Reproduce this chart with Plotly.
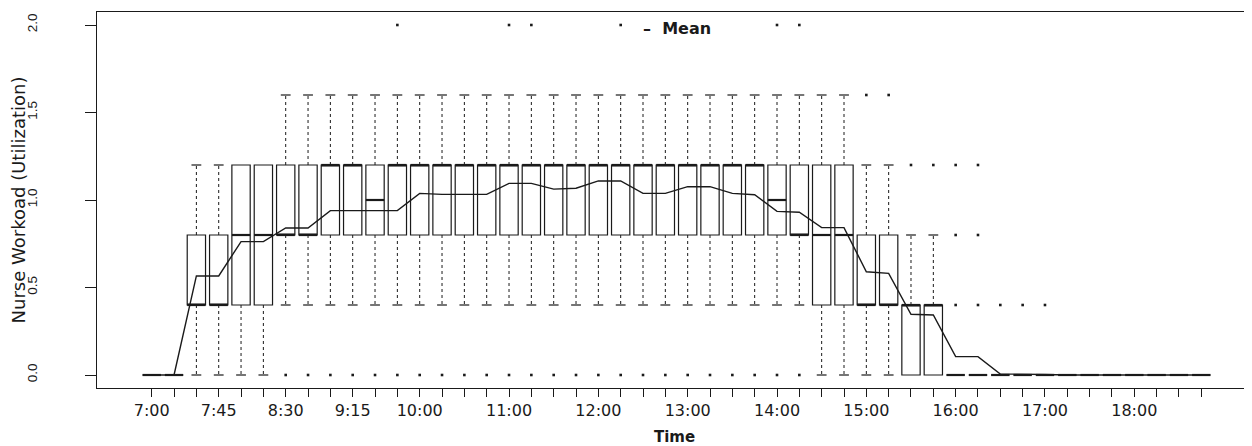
import plotly.graph_objects as go

# 15-minute time slots, 7:00 .. 18:45
times = ["7:00", "7:15", "7:30", "7:45", "8:00", "8:15", "8:30", "8:45",
         "9:00", "9:15", "9:30", "9:45", "10:00", "10:15", "10:30", "10:45",
         "11:00", "11:15", "11:30", "11:45", "12:00", "12:15", "12:30", "12:45",
         "13:00", "13:15", "13:30", "13:45", "14:00", "14:15", "14:30", "14:45",
         "15:00", "15:15", "15:30", "15:45", "16:00", "16:15", "16:30", "16:45",
         "17:00", "17:15", "17:30", "17:45", "18:00", "18:15", "18:30", "18:45"]

tick_labels = ["7:00", "7:45", "8:30", "9:15", "10:00", "11:00", "12:00",
               "13:00", "14:00", "15:00", "16:00", "17:00", "18:00"]

q1 = [0, 0, 0.4, 0.4, 0.4, 0.4, 0.8, 0.8, 0.8, 0.8, 0.8, 0.8,
      0.8, 0.8, 0.8, 0.8, 0.8, 0.8, 0.8, 0.8, 0.8, 0.8, 0.8, 0.8,
      0.8, 0.8, 0.8, 0.8, 0.8, 0.8, 0.4, 0.4, 0.4, 0.4, 0, 0,
      0, 0, 0, 0, 0, 0, 0, 0, 0, 0, 0, 0]

median = [0, 0, 0.4, 0.4, 0.8, 0.8, 0.8, 0.8, 1.2, 1.2, 1.0, 1.2,
          1.2, 1.2, 1.2, 1.2, 1.2, 1.2, 1.2, 1.2, 1.2, 1.2, 1.2, 1.2,
          1.2, 1.2, 1.2, 1.2, 1.0, 0.8, 0.8, 0.8, 0.4, 0.4, 0.4, 0.4,
          0, 0, 0, 0, 0, 0, 0, 0, 0, 0, 0, 0]

q3 = [0, 0, 0.8, 0.8, 1.2, 1.2, 1.2, 1.2, 1.2, 1.2, 1.2, 1.2,
      1.2, 1.2, 1.2, 1.2, 1.2, 1.2, 1.2, 1.2, 1.2, 1.2, 1.2, 1.2,
      1.2, 1.2, 1.2, 1.2, 1.2, 1.2, 1.2, 1.2, 0.8, 0.8, 0.4, 0.4,
      0, 0, 0, 0, 0, 0, 0, 0, 0, 0, 0, 0]

whisker_low = [0, 0, 0, 0, 0, 0, 0.4, 0.4, 0.4, 0.4, 0.4, 0.4,
               0.4, 0.4, 0.4, 0.4, 0.4, 0.4, 0.4, 0.4, 0.4, 0.4, 0.4, 0.4,
               0.4, 0.4, 0.4, 0.4, 0.4, 0.4, 0, 0, 0, 0, 0, 0,
               0, 0, 0, 0, 0, 0, 0, 0, 0, 0, 0, 0]

whisker_high = [0, 0, 1.2, 1.2, 1.2, 1.2, 1.6, 1.6, 1.6, 1.6, 1.6, 1.6,
                1.6, 1.6, 1.6, 1.6, 1.6, 1.6, 1.6, 1.6, 1.6, 1.6, 1.6, 1.6,
                1.6, 1.6, 1.6, 1.6, 1.6, 1.6, 1.6, 1.6, 1.2, 1.2, 0.8, 0.8,
                0, 0, 0, 0, 0, 0, 0, 0, 0, 0, 0, 0]

mean = [0, 0, 0.566, 0.566, 0.762, 0.762, 0.84, 0.84, 0.939, 0.939, 0.939, 0.939,
        1.038, 1.032, 1.032, 1.032, 1.095, 1.095, 1.062, 1.067, 1.109, 1.109, 1.038, 1.038,
        1.076, 1.076, 1.038, 1.03, 0.935, 0.93, 0.842, 0.842, 0.59, 0.581, 0.347, 0.343,
        0.105, 0.105, 0.006, 0.006, 0.003, 0, 0, 0, 0, 0, 0, 0]

# outlying points: slot label and value
outlier_time = ["8:30", "8:45", "9:00", "9:15", "9:30", "9:45", "10:00", "10:15",
                "10:30", "10:45", "11:00", "11:15", "11:30", "11:45", "12:00", "12:15",
                "12:30", "12:45", "13:00", "13:15", "13:30", "13:45", "14:00", "14:15",
                "9:45", "11:00", "11:15", "12:15", "14:00", "14:15",
                "15:00", "15:15",
                "15:30", "15:45", "16:00", "16:15",
                "16:00", "16:15",
                "16:00", "16:15", "16:30", "16:45", "17:00"]
outlier_value = [0, 0, 0, 0, 0, 0, 0, 0,
                 0, 0, 0, 0, 0, 0, 0, 0,
                 0, 0, 0, 0, 0, 0, 0, 0,
                 2.0, 2.0, 2.0, 2.0, 2.0, 2.0,
                 1.6, 1.6,
                 1.2, 1.2, 1.2, 1.2,
                 0.8, 0.8,
                 0.4, 0.4, 0.4, 0.4, 0.4]

# ---------------------------------------------------------------
pos = {t: i for i, t in enumerate(times)}
xs = list(range(len(times)))
BOX_W = 0.82
CAP_HW = 0.22
INK = "#1a1a1a"

fig = go.Figure()

fig.add_trace(go.Box(
    x=xs, q1=q1, median=median, q3=q3, lowerfence=q1, upperfence=q3,
    width=BOX_W, whiskerwidth=0, boxpoints=False,
    fillcolor="rgba(255,255,255,0)", line=dict(color=INK, width=1.2),
    showlegend=False, hoverinfo="skip"))

# dashed whiskers and their caps
wx, wy, cx, cy = [], [], [], []
for i in xs:
    if whisker_high[i] > q3[i]:
        wx += [i, i, None]
        wy += [q3[i], whisker_high[i], None]
        cx += [i - CAP_HW, i + CAP_HW, None]
        cy += [whisker_high[i], whisker_high[i], None]
    if whisker_low[i] < q1[i]:
        wx += [i, i, None]
        wy += [q1[i], whisker_low[i], None]
        cx += [i - CAP_HW, i + CAP_HW, None]
        cy += [whisker_low[i], whisker_low[i], None]
fig.add_trace(go.Scatter(x=wx, y=wy, mode="lines",
                         line=dict(color=INK, width=1, dash="3px,3px"),
                         showlegend=False, hoverinfo="skip"))
fig.add_trace(go.Scatter(x=cx, y=cy, mode="lines",
                         line=dict(color=INK, width=1.2),
                         showlegend=False, hoverinfo="skip"))

# thick median bars
mx, my = [], []
for i in xs:
    mx += [i - BOX_W / 2, i + BOX_W / 2, None]
    my += [median[i], median[i], None]
fig.add_trace(go.Scatter(x=mx, y=my, mode="lines",
                         line=dict(color=INK, width=2.2),
                         showlegend=False, hoverinfo="skip"))

# outliers
fig.add_trace(go.Scatter(x=[pos[t] for t in outlier_time], y=outlier_value,
                         mode="markers",
                         marker=dict(color=INK, size=2.6, symbol="square"),
                         showlegend=False, hoverinfo="skip"))

# mean line
fig.add_trace(go.Scatter(x=xs, y=mean, mode="lines", name="Mean",
                         line=dict(color=INK, width=1.4),
                         showlegend=False))

ticktext = [t if t in tick_labels else "" for t in times]

# the page body adds an 8px offset, so the figure is drawn 8px smaller
fig.update_layout(
    width=1244, height=438,
    margin=dict(l=89, r=0, t=4, b=58, autoexpand=False),
    paper_bgcolor="white", plot_bgcolor="white",
    font=dict(family="DejaVu Sans", color=INK),
    annotations=[dict(xref="paper", yref="paper", x=0.471, y=0.955,
                      xanchor="left", yanchor="middle", showarrow=False,
                      text="–  Mean",
                      font=dict(family="DejaVu Sans", size=16, weight="bold", color=INK))],
)

fig.update_xaxes(
    range=[-2.45, 49.27], tickmode="array", tickvals=xs, ticktext=ticktext,
    ticks="outside", ticklen=8, tickwidth=1, tickcolor=INK,
    showline=True, linecolor=INK, linewidth=1.2, mirror=True,
    showgrid=False, zeroline=False, automargin=False,
    tickfont=dict(family="DejaVu Sans", size=16, color=INK),
    title=dict(text="Time", standoff=19,
               font=dict(family="DejaVu Sans", size=15, weight="bold", color=INK)),
)

fig.update_yaxes(
    range=[-0.0743, 2.0743], tickmode="array",
    tickvals=[0, 0.5, 1.0, 1.5, 2.0], ticktext=["0.0", "0.5", "1.0", "1.5", "2.0"],
    tickangle=-90, ticks="outside", ticklen=11, tickwidth=1, tickcolor=INK,
    ticklabelstandoff=43,
    showline=True, linecolor=INK, linewidth=1.2, mirror=False,
    showgrid=False, zeroline=False, automargin=False,
    tickfont=dict(family="Liberation Sans", size=13.5, color=INK),
    title=dict(text="Nurse Workoad (Utilization)", standoff=0,
               font=dict(family="DejaVu Sans", size=18, color=INK)),
)

fig.write_html("out.html")
